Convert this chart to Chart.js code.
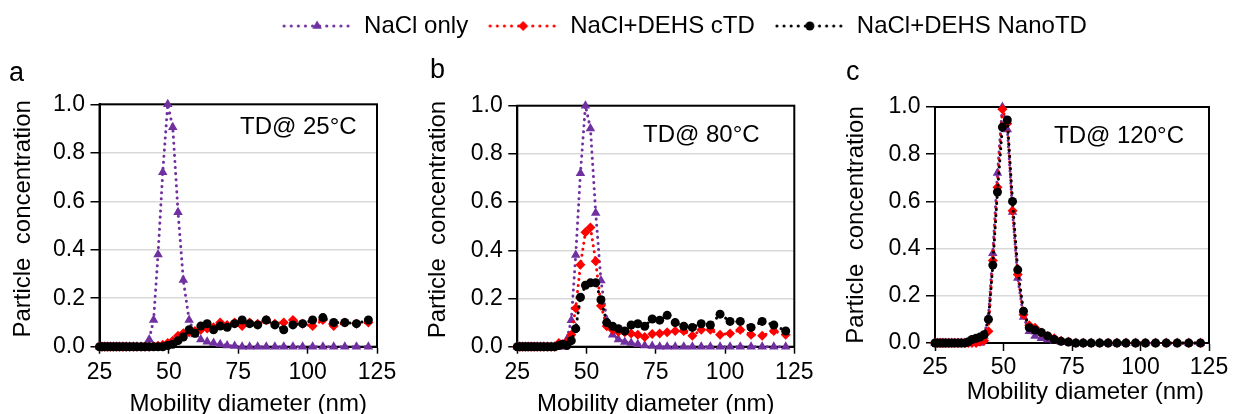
<!DOCTYPE html>
<html>
<head>
<meta charset="utf-8">
<script src="https://cdn.jsdelivr.net/npm/chart.js@4.4.1/dist/chart.umd.min.js"></script>
<style>
  html, body { margin: 0; padding: 0; background: #fff; }
  body { width: 1236px; height: 414px; overflow: hidden; position: relative; font-family: 'Liberation Sans', Arial, sans-serif; }
  canvas, .txt { position: absolute; }
  .txt { line-height: 1; color: #000; white-space: pre; }
  .tag { font-size: 24px; }
  .letter { font-size: 27px; }
</style>
</head>
<body>
<canvas id="legendChart" width="1236" height="200" style="left:0;top:-6px"></canvas>
<canvas id="chartA" width="410" height="378" style="left:0;top:45px"></canvas>
<canvas id="chartB" width="420" height="378" style="left:410px;top:45px"></canvas>
<canvas id="chartC" width="406" height="366" style="left:830px;top:45px"></canvas>

<div class="txt letter" style="left:9px;top:59px">a</div>
<div class="txt letter" style="left:430px;top:56px">b</div>
<div class="txt letter" style="left:846px;top:58px">c</div>
<div class="txt tag" style="left:240px;top:114px">TD@ 25°C</div>
<div class="txt tag" style="left:643px;top:122px">TD@ 80°C</div>
<div class="txt tag" style="left:1054px;top:123px">TD@ 120°C</div>

<script>
// SMPS bin midpoints (nm)
const diameterNm = [25.0, 25.9, 26.9, 27.9, 28.9, 30.0, 31.1, 32.2, 33.4, 34.6, 35.9, 37.2, 38.5, 40.0, 41.4,
  42.9, 44.5, 46.1, 47.8, 49.6, 51.4, 53.3, 55.2, 57.3, 59.4, 61.5, 63.8, 66.1, 68.5, 71.0,
  73.7, 76.4, 79.1, 82.0, 85.1, 88.2, 91.4, 94.7, 98.2, 101.8, 105.5, 109.4, 113.4, 117.6, 121.9];

// NaCl only (same reference in every panel)
const naclOnly = [0, 0, 0, 0, 0, 0, 0, 0, 0, 0, 0, 0, 0, 0, 0,
  0.03, 0.11, 0.38, 0.72, 1.0, 0.905, 0.555, 0.275, 0.11, 0.05, 0.03, 0.02, 0.015, 0.01, 0.005,
  0.003, 0, 0, 0, 0, 0, 0, 0, 0, 0, 0, 0, 0, 0, 0];

// TD @ 25 C
const ctd25 = [0, 0, 0, 0, 0, 0, 0, 0, 0, 0, 0, 0, 0, 0, 0,
  0, 0.002, 0.004, 0.008, 0.015, 0.025, 0.045, 0.055, 0.06, 0.065, 0.07, 0.075, 0.08, 0.1, 0.09,
  0.1, 0.085, 0.1, 0.095, 0.11, 0.095, 0.1, 0.11, 0.095, 0.085, 0.11, 0.085, 0.1, 0.095, 0.1];
const nano25 = [0, 0, 0, 0, 0, 0, 0, 0, 0, 0, 0, 0, 0, 0, 0,
  0, 0, 0, 0, 0.005, 0.01, 0.025, 0.04, 0.07, 0.055, 0.085, 0.095, 0.07, 0.085, 0.08,
  0.095, 0.11, 0.095, 0.09, 0.11, 0.09, 0.07, 0.09, 0.095, 0.11, 0.12, 0.1, 0.1, 0.095, 0.11];

// TD @ 80 C
const ctd80 = [0, 0, 0, 0, 0, 0, 0, 0, 0, 0, 0, 0, 0, 0.015, 0.01,
  0.02, 0.05, 0.16, 0.34, 0.475, 0.495, 0.355, 0.17, 0.085, 0.07, 0.062, 0.06, 0.055, 0.05, 0.04,
  0.053, 0.055, 0.06, 0.065, 0.065, 0.045, 0.07, 0.07, 0.05, 0.055, 0.07, 0.05, 0.045, 0.065, 0.05];
const nano80 = [0, 0, 0, 0, 0, 0, 0, 0, 0, 0, 0, 0, 0, 0.005, 0.01,
  0.005, 0.025, 0.075, 0.205, 0.255, 0.265, 0.265, 0.195, 0.1, 0.085, 0.075, 0.065, 0.09, 0.095, 0.085,
  0.115, 0.11, 0.13, 0.1, 0.085, 0.08, 0.095, 0.09, 0.135, 0.105, 0.105, 0.08, 0.105, 0.09, 0.065];

// TD @ 120 C
const ctd120 = [0, 0, 0, 0, 0, 0, 0, 0, 0, 0, 0, 0, 0, 0, 0.005,
  0.01, 0.05, 0.35, 0.66, 0.99, 0.93, 0.56, 0.29, 0.12, 0.075, 0.065, 0.045, 0.03, 0.02, 0.01,
  0.005, 0, 0, 0, 0, 0, 0, 0, 0, 0, 0, 0, 0, 0, 0];
const nano120 = [0, 0, 0, 0, 0, 0, 0, 0, 0, 0, 0, 0.005, 0.015, 0.02, 0.025,
  0.035, 0.1, 0.33, 0.64, 0.915, 0.945, 0.6, 0.31, 0.135, 0.065, 0.055, 0.045, 0.03, 0.015, 0.007,
  0.004, 0, 0, 0, 0, 0, 0, 0, 0, 0, 0, 0, 0, 0, 0];

const seriesNames = ['NaCl only', 'NaCl+DEHS cTD', 'NaCl+DEHS NanoTD'];

const PURPLE = '#7030a0';
const RED = '#ff0000';
const BLACK = '#000000';
const FONT = "'Liberation Sans', Arial, sans-serif";

// box around the plot area, drawn under the markers
const framePlugin = {
    id: 'frame',
    beforeDatasetsDraw(chart) {
        const { ctx, chartArea: a } = chart;
        ctx.save();
        ctx.strokeStyle = '#000';
        ctx.lineWidth = 2;
        ctx.strokeRect(a.left, a.top, a.right - a.left, a.bottom - a.top);
        ctx.restore();
    }
};

function toPoints(ys) {
    return diameterNm.map((x, i) => ({ x: x, y: ys[i] }));
}

function series(label, ys, color, shape, radius, order) {
    return {
        label: label,
        data: toPoints(ys),
        showLine: true,
        borderColor: color,
        backgroundColor: color,
        borderWidth: 3,
        borderDash: [0.1, 6],
        borderCapStyle: 'round',
        tension: 0,
        pointStyle: shape,
        pointRadius: radius,
        pointBackgroundColor: color,
        pointBorderWidth: 0,
        order: order,
        clip: false
    };
}

function makePanel(id, lay, ctd, nano) {
    new Chart(document.getElementById(id), {
        type: 'scatter',
        data: {
            datasets: [
                series(seriesNames[0], naclOnly, PURPLE, 'triangle', 5.5, 3),
                series(seriesNames[1], ctd, RED, 'rectRot', 5, 2),
                series(seriesNames[2], nano, BLACK, 'circle', 4.5, 1)
            ]
        },
        options: {
            responsive: false,
            animation: false,
            events: [],
            layout: { padding: { left: lay.padLeft, top: lay.padTop, right: lay.padRight, bottom: 0 } },
            plugins: { legend: { display: false }, tooltip: { enabled: false } },
            scales: {
                x: {
                    type: 'linear',
                    min: 25, max: 125,
                    afterFit: (s) => { s.height = lay.xHeight; },
                    ticks: { stepSize: 25, color: '#000', font: { family: FONT, size: 23 }, padding: lay.xPad, maxRotation: 0 },
                    grid: { display: true, drawOnChartArea: false, tickLength: lay.xTick, tickColor: '#000', tickWidth: 1.5 },
                    border: { color: '#000', width: 2 },
                    title: { display: true, text: lay.xTitle, color: '#000', font: { family: FONT, size: 24 }, padding: { top: 4, bottom: 4 } }
                },
                y: {
                    min: 0, max: 1,
                    afterFit: (s) => { s.width = lay.yWidth; },
                    ticks: { stepSize: 0.2, color: '#000', font: { family: FONT, size: 23 }, padding: 5.5, callback: (v) => v.toFixed(1) },
                    grid: { color: '#d9d9d9', lineWidth: 1.5, tickLength: 9, tickColor: '#000', tickWidth: 1.5 },
                    border: { color: '#000', width: 2 },
                    title: { display: true, text: lay.yTitle, color: '#000', font: { family: FONT, size: 24 }, padding: { top: 4, bottom: 4 } }
                }
            }
        },
        plugins: [framePlugin]
    });
}

// leading spaces nudge the titles the way the original figure has them offset
makePanel('chartA', { padLeft: 4.9, yWidth: 94.6, padTop: 59.3, padRight: 33, xHeight: 76.3, xTick: 7, xPad: 5,
    xTitle: '   Mobility diameter (nm)', yTitle: '  Particle  concentration' }, ctd25, nano25);
makePanel('chartB', { padLeft: 9.6, yWidth: 97.7, padTop: 60.7, padRight: 35.7, xHeight: 76.3, xTick: 7, xPad: 5,
    xTitle: 'Mobility diameter (nm)', yTitle: '  Particle  concentration' }, ctd80, nano80);
makePanel('chartC', { padLeft: 8, yWidth: 97, padTop: 62, padRight: 27, xHeight: 68, xTick: 8, xPad: 3,
    xTitle: '    Mobility diameter (nm)', yTitle: 'Particle  concentration' }, ctd120, nano120);

// legend swatch: dotted line with the marker in the middle
function legendIcon(color, shape, r) {
    const c = document.createElement('canvas');
    c.width = 70; c.height = 16;
    const g = c.getContext('2d');
    g.strokeStyle = color;
    g.lineWidth = 3;
    g.lineCap = 'round';
    g.setLineDash([0.1, 7]);
    g.beginPath(); g.moveTo(2, 8); g.lineTo(68, 8); g.stroke();
    g.fillStyle = color;
    g.beginPath();
    if (shape === 'triangle') {
        g.moveTo(35, 8 - r);
        g.lineTo(35 + r * 0.866, 8 + r / 2);
        g.lineTo(35 - r * 0.866, 8 + r / 2);
        g.closePath();
    } else if (shape === 'rectRot') {
        g.moveTo(35, 8 - r); g.lineTo(35 + r, 8); g.lineTo(35, 8 + r); g.lineTo(35 - r, 8); g.closePath();
    } else {
        g.arc(35, 8, r, 0, Math.PI * 2);
    }
    g.fill();
    return c;
}

const legendStyles = [
    { color: PURPLE, shape: 'triangle', r: 5.5 },
    { color: RED, shape: 'rectRot', r: 5 },
    { color: BLACK, shape: 'circle', r: 4.5 }
];

new Chart(document.getElementById('legendChart'), {
    type: 'scatter',
    data: { datasets: [] },
    options: {
        responsive: false,
        animation: false,
        events: [],
        layout: { padding: { left: 133, top: 0, right: 0, bottom: 0 } },
        scales: { x: { display: false }, y: { display: false } },
        plugins: {
            tooltip: { enabled: false },
            legend: {
                display: true,
                position: 'top',
                align: 'center',
                labels: {
                    color: '#000',
                    font: { family: FONT, size: 24 },
                    usePointStyle: true,
                    pointStyleWidth: 70,
                    padding: 20,
                    generateLabels: () => seriesNames.map((name, i) => ({
                        text: name,
                        pointStyle: legendIcon(legendStyles[i].color, legendStyles[i].shape, legendStyles[i].r),
                        fillStyle: legendStyles[i].color,
                        strokeStyle: legendStyles[i].color,
                        fontColor: '#000',
                        lineWidth: 0,
                        hidden: false,
                        datasetIndex: i
                    }))
                }
            }
        }
    }
});
</script>
</body>
</html>
